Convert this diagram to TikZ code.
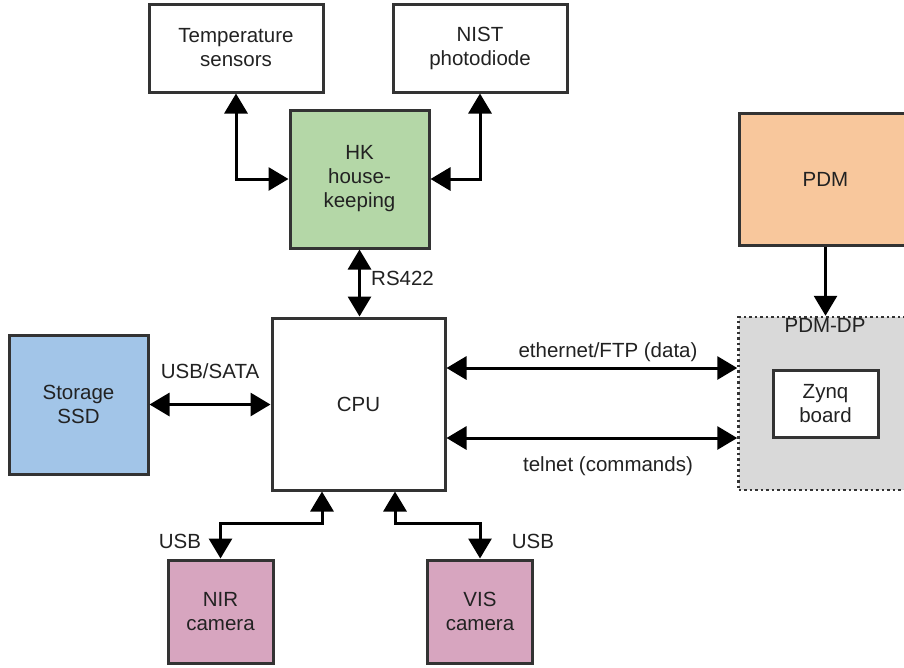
\documentclass[tikz,border=0pt]{standalone}
\usepackage{fontspec}
\setmainfont{Liberation Sans}
\usetikzlibrary{arrows.meta,calc}
\definecolor{bc}{HTML}{333333}
\definecolor{tc}{HTML}{222222}
\definecolor{hkgreen}{HTML}{B4D7A7}
\definecolor{ssdblue}{HTML}{A2C5E8}
\definecolor{pdmorange}{HTML}{F8C79C}
\definecolor{campink}{HTML}{D7A5BF}
\definecolor{dpgray}{HTML}{D9D9D9}
\begin{document}
\begin{tikzpicture}[x=1pt,y=-1pt,
  box/.style={draw=bc, line width=3pt, inner sep=0pt, align=center,
    text=tc, font=\fontsize{20.5}{24}\selectfont},
  lbl/.style={text=tc, inner sep=0pt, font=\fontsize{20.5}{24}\selectfont},
  dbl/.style={line width=3pt, draw=black, {Triangle[length=20pt,width=23pt]}-{Triangle[length=20pt,width=23pt]}},
  sgl/.style={line width=3pt, draw=black, -{Triangle[length=20pt,width=23pt]}}]
\useasboundingbox (0,0) rectangle (904,667);
\fill[white] (0,0) rectangle (904,667);
% nodes
\node[box, minimum width=174pt, minimum height=88pt] (temp) at (236,48) {Temperature\\sensors};
\node[box, minimum width=174pt, minimum height=88pt] (nist) at (480,48) {NIST\\photodiode};
\node[box, fill=hkgreen, minimum width=139pt, minimum height=138pt] (hk) at (359.5,179) {HK\\house-\\keeping};
\node[box, minimum width=173pt, minimum height=172pt] (cpu) at (358.5,404) {CPU};
\node[box, fill=ssdblue, minimum width=139pt, minimum height=139pt] (ssd) at (78.5,404.5) {Storage\\SSD};
\node[box, fill=pdmorange, minimum width=173pt, minimum height=132pt] (pdm) at (825.5,179) {PDM};
\node[box, fill=dpgray, line width=2.5pt, dash pattern=on 2.5pt off 3pt, minimum width=173pt, minimum height=173pt] (dp) at (825,403.5) {};
\node[lbl, anchor=north] (dplbl) at (825,318) {PDM-DP};
\node[box, fill=white, minimum width=105pt, minimum height=67pt] (zynq) at (825.5,403.5) {Zynq\\board};
\node[box, fill=campink, minimum width=105pt, minimum height=103pt] (nir) at (220.5,611.5) {NIR\\camera};
\node[box, fill=campink, minimum width=105pt, minimum height=103pt] (vis) at (480,611.5) {VIS\\camera};
% connectors
\draw[dbl] (temp.south) |- (hk.west);
\draw[dbl] (nist.south) |- (hk.east);
\draw[dbl] (hk.south) -- (hk.south |- cpu.north);
\draw[dbl] (ssd.east) -- (ssd.east -| cpu.west);
\draw[dbl] ($(cpu.east)+(0,-36)$) -- ($(cpu.east -| dp.west)+(0,-36)$);
\draw[dbl] ($(cpu.east)+(0,34)$) -- ($(cpu.east -| dp.west)+(0,34)$);
\draw[sgl] (pdm.south) -- (pdm.south |- dp.north);
\draw[dbl] ($(cpu.south)+(-36.5,0)$) |- ($(nir.north)+(0,-35)$) -- (nir.north);
\draw[dbl] ($(cpu.south)+(36.5,0)$) |- ($(vis.north)+(0,-35)$) -- (vis.north);
% labels
\node[lbl, anchor=west] (rs) at (371,278) {RS422};
\node[lbl] (usbsata) at (210,371) {USB/SATA};
\node[lbl] (eth) at (608,352) {ethernet/FTP (data)};
\node[lbl] (tel) at (608,466) {telnet (commands)};
\node[lbl] (usbl) at (180,541) {USB};
\node[lbl] (usbr) at (533,541) {USB};
\end{tikzpicture}
\end{document}
